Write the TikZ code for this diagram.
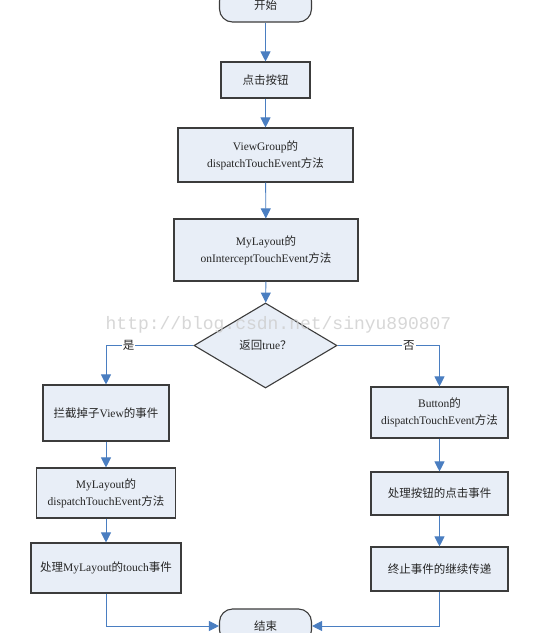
\documentclass[tikz,border=0pt]{standalone}
\usepackage{fontspec}
\setmainfont{Liberation Serif}
\newfontfamily\cjkfont{Noto Sans CJK SC}
\newfontfamily\wmfont{Liberation Mono}
\usetikzlibrary{shapes.geometric,arrows.meta}
\newcommand\zhtxt[1]{{\cjkfont #1}}
\definecolor{boxfill}{RGB}{232,238,247}
\definecolor{boxline}{RGB}{60,60,60}
\definecolor{linkblue}{RGB}{74,126,193}
\definecolor{wmgray}{RGB}{205,205,205}
\tikzset{
  base/.style={draw=boxline, line width=1.1pt, fill=boxfill, align=center,
    font=\fontsize{11.5}{17}\selectfont, text=black!85, inner sep=2pt},
  procbox/.style={base, rectangle},
  termbox/.style={base, rectangle, rounded corners=13pt, minimum width=92pt, minimum height=34pt},
  decbox/.style={base, diamond, aspect=1.68, minimum width=143pt, minimum height=85pt, inner sep=0pt},
  link/.style={draw=linkblue, line width=0.9pt, -{Triangle[length=10pt,width=10pt]}},
  lab/.style={fill=white, inner sep=1pt, font=\fontsize{11.5}{14}\selectfont, text=black!85}
}
\begin{document}
\begin{tikzpicture}[x=1pt,y=-1pt]
\clip (0,0) rectangle (546,633);
\fill[white] (0,0) rectangle (546,633);

\node[termbox] (start) at (265.5,5) {\zhtxt{开始}};
\node[procbox, minimum width=89pt, minimum height=36pt] (click) at (265.5,80) {\zhtxt{点击按钮}};
\node[procbox, minimum width=175pt, minimum height=54pt] (vg) at (265.5,155) {ViewGroup\zhtxt{的}\\dispatchTouchEvent\zhtxt{方法}};
\node[procbox, minimum width=184pt, minimum height=62pt] (ml) at (266,250) {MyLayout\zhtxt{的}\\onInterceptTouchEvent\zhtxt{方法}};
\node[decbox] (dec) at (265.5,345.5) {\zhtxt{返回}true\zhtxt{？}};

\node[procbox, minimum width=126pt, minimum height=56pt] (l1) at (106,413) {\zhtxt{拦截掉子}View\zhtxt{的事件}};
\node[procbox, minimum width=139pt, minimum height=50pt] (l2) at (106,493) {MyLayout\zhtxt{的}\\dispatchTouchEvent\zhtxt{方法}};
\node[procbox, minimum width=150pt, minimum height=50pt] (l3) at (106,568) {\zhtxt{处理}MyLayout\zhtxt{的}touch\zhtxt{事件}};

\node[procbox, minimum width=137pt, minimum height=51pt] (r1) at (439.5,412.5) {Button\zhtxt{的}\\dispatchTouchEvent\zhtxt{方法}};
\node[procbox, minimum width=137pt, minimum height=43pt] (r2) at (439.5,493.5) {\zhtxt{处理按钮的点击事件}};
\node[procbox, minimum width=137pt, minimum height=44pt] (r3) at (439.5,569) {\zhtxt{终止事件的继续传递}};

\node[termbox] (stop) at (265.5,626) {\zhtxt{结束}};

\draw[link] (start) -- (click);
\draw[link] (click) -- (vg);
\draw[link] (vg) -- (ml);
\draw[link] (ml) -- (dec);
\draw[link] (dec.west) -| node[lab, pos=0.37] {\zhtxt{是}} (l1.north);
\draw[link] (dec.east) -| node[lab, pos=0.35] {\zhtxt{否}} (r1.north);
\draw[link] (l1) -- (l2);
\draw[link] (l2) -- (l3);
\draw[link] (r1) -- (r2);
\draw[link] (r2) -- (r3);
\draw[link] (l3.south) |- (stop.west);
\draw[link] (r3.south) |- (stop.east);

\node[text=wmgray, font=\wmfont\fontsize{18}{18}\selectfont, inner sep=0pt, opacity=0.8] (wm) at (278.5,325) {http://blog.csdn.net/sinyu890807};
\end{tikzpicture}
\end{document}
